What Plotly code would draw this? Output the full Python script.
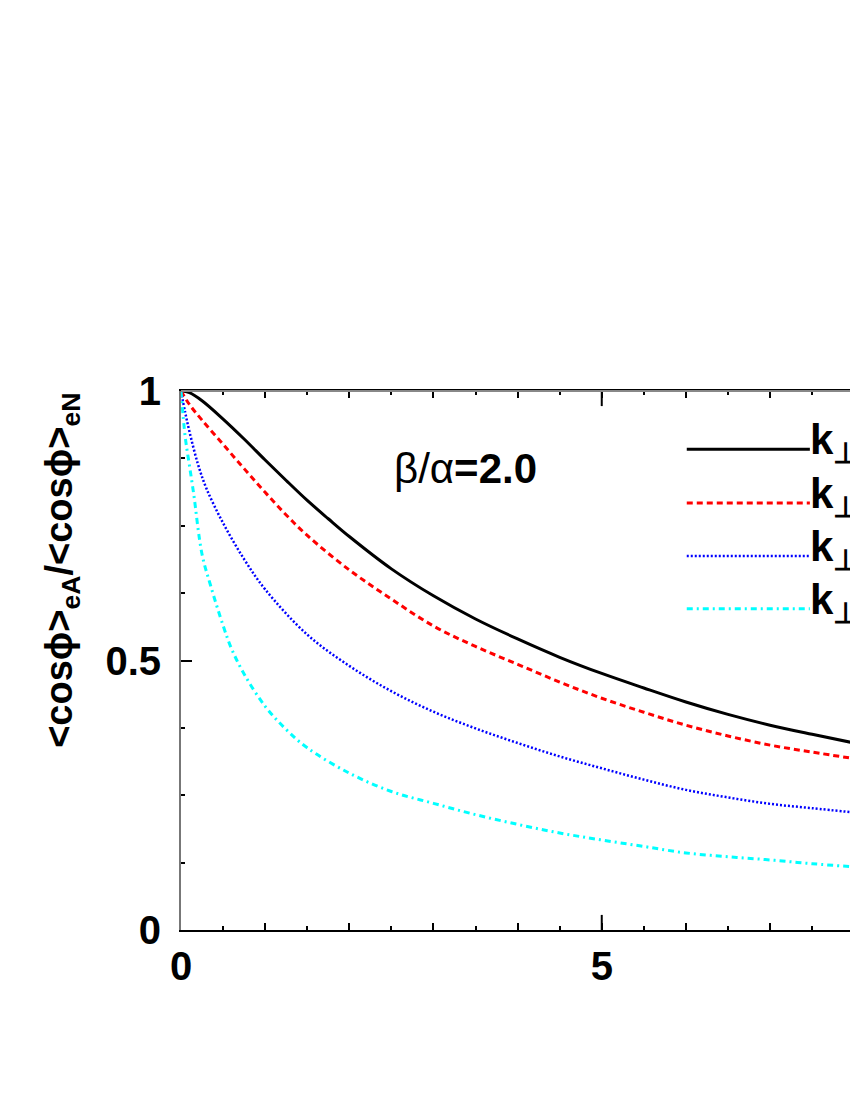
# Ratio <cos phi>_eA / <cos phi>_eN vs x, beta/alpha = 2.0
import plotly.graph_objects as go

# curve data
x_black = [0, 0.1, 0.25, 0.5, 0.75, 1, 1.25, 1.5, 1.75, 2, 2.5, 3, 3.5, 4, 4.5, 5, 5.5, 6,
           6.5, 7, 7.5, 8]
y_black = [1.0, 0.997, 0.982, 0.948, 0.911, 0.872, 0.834, 0.797, 0.763, 0.73, 0.67, 0.62,
           0.577, 0.54, 0.506, 0.476, 0.449, 0.423, 0.40, 0.38, 0.363, 0.347]

x_red = [0, 0.1, 0.25, 0.5, 0.75, 1, 1.25, 1.5, 2, 2.5, 3, 3.5, 4, 4.5, 5, 5.5, 6, 6.5, 7,
         7.5, 8]
y_red = [1.0, 0.975, 0.946, 0.901, 0.856, 0.812, 0.77, 0.732, 0.668, 0.614, 0.564, 0.526,
         0.493, 0.46, 0.43, 0.404, 0.38, 0.36, 0.343, 0.33, 0.318]

x_blue = [0, 0.05, 0.1, 0.2, 0.3, 0.5, 0.75, 1, 1.5, 2, 2.5, 3, 3.5, 4, 4.5, 5, 5.5, 6, 6.5,
          7, 7.5, 8]
y_blue = [1.0, 0.96, 0.925, 0.865, 0.82, 0.755, 0.688, 0.632, 0.548, 0.49, 0.443, 0.405,
          0.374, 0.347, 0.322, 0.300, 0.279, 0.260, 0.246, 0.234, 0.226, 0.218]

x_cyan = [0, 0.05, 0.1, 0.15, 0.25, 0.35, 0.5, 0.6, 0.75, 1, 1.25, 1.5, 2, 2.5, 3, 3.5, 4,
          4.5, 5, 5.5, 6, 6.5, 7, 7.5, 8]
y_cyan = [1.0, 0.915, 0.862, 0.81, 0.697, 0.64, 0.565, 0.522, 0.475, 0.415, 0.372, 0.338,
          0.291, 0.257, 0.235, 0.214, 0.196, 0.18, 0.167, 0.155, 0.143, 0.136, 0.13, 0.123,
          0.117]

x_ticks = [0, 1, 2, 3, 4, 5, 6, 7, 8, 9, 10]
x_ticktext = ['0', '', '', '', '', '5', '', '', '', '', '10']
y_ticks = [0, 0.5, 1]
y_ticktext = ['0', '0.5', '1']

label = 'k<sub>⊥</sub>'

series = [
    (x_black, y_black, 'black', 'solid', 3),
    (x_red, y_red, 'red', '6px,4px', 3),
    (x_blue, y_blue, 'blue', '2px,2px', 2.5),
    (x_cyan, y_cyan, 'cyan', '6px,4px,2px,4px', 3),
]

fig = go.Figure()

for xs, ys, color, dash, w in series:
    fig.add_trace(go.Scatter(
        x=xs, y=ys, mode='lines', showlegend=False,
        line=dict(color=color, dash=dash, width=w, shape='spline', smoothing=1.0),
    ))

# hand-made legend: long line samples, label to the right (cut off by the page edge)
leg_y = [0.892, 0.792, 0.694, 0.596]
for (xs, ys, color, dash, w), ly in zip(series, leg_y):
    fig.add_shape(type='line', xref='paper', yref='paper', x0=0.756, x1=0.94, y0=ly, y1=ly,
                  line=dict(color=color, dash=dash, width=w))
    fig.add_annotation(text=f'<b>{label}</b>', xref='paper', yref='paper', x=0.937, y=ly + 0.012,
                       xanchor='left', yanchor='middle', showarrow=False,
                       font=dict(size=42, color='black'))

fig.add_annotation(text='β/α<b>=2.0</b>', xref='paper', yref='paper', x=0.426, y=0.857,
                   xanchor='center', yanchor='middle', showarrow=False,
                   font=dict(size=42, color='black'))

# y title placed as a rotated annotation (it is not centred on the axis)
fig.add_annotation(text='<b>&lt;cosϕ&gt;<sub>eA</sub>/&lt;cosϕ&gt;<sub>eN</sub></b>',
                   xref='paper', yref='paper', x=-0.178, y=0.668, textangle=-90,
                   xanchor='center', yanchor='middle', showarrow=False,
                   font=dict(size=38, color='black'))

# long tick at x = 5, bottom and top
for y0, y1 in [(0, 0.028), (1, 0.972)]:
    fig.add_shape(type='line', xref='x', yref='paper', x0=5, x1=5, y0=y0, y1=y1,
                  line=dict(color='black', width=2))
# grey frame on top
fig.add_shape(type='line', xref='paper', yref='paper', x0=0, x1=1, y0=1, y1=1,
              line=dict(color='#888888', width=2))

fig.update_layout(
    width=850, height=1100,
    margin=dict(l=181, r=0, t=391, b=170),
    paper_bgcolor='white', plot_bgcolor='white',
    font=dict(family='Liberation Sans, Arial, sans-serif', color='black'),
    xaxis=dict(
        range=[0, 7.95], showgrid=False, zeroline=False,
        showline=True, linecolor='black', linewidth=2, mirror='ticks',
        tickmode='array', tickvals=x_ticks, ticktext=x_ticktext,
        ticks='inside', ticklen=7, tickwidth=2, tickcolor='black',
        minor=dict(dtick=0.5, tick0=0, ticks='inside', ticklen=4, tickwidth=1.5, tickcolor='black'),
        tickfont=dict(size=40, weight='bold'),
    ),
    yaxis=dict(
        range=[0, 1], showgrid=False, zeroline=False,
        showline=True, linecolor='#777777', linewidth=2, mirror=False,
        tickmode='array', tickvals=y_ticks, ticktext=y_ticktext,
        ticks='inside', ticklen=11, tickwidth=2, tickcolor='black',
        minor=dict(dtick=0.125, tick0=0, ticks='inside', ticklen=4, tickwidth=1.5, tickcolor='black'),
        tickfont=dict(size=40, weight='bold'), ticklabelstandoff=10,
    ),
)

fig.write_html('out.html', config={'displayModeBar': False},
               post_script="document.body.style.margin='0';document.body.style.overflow='hidden';")
